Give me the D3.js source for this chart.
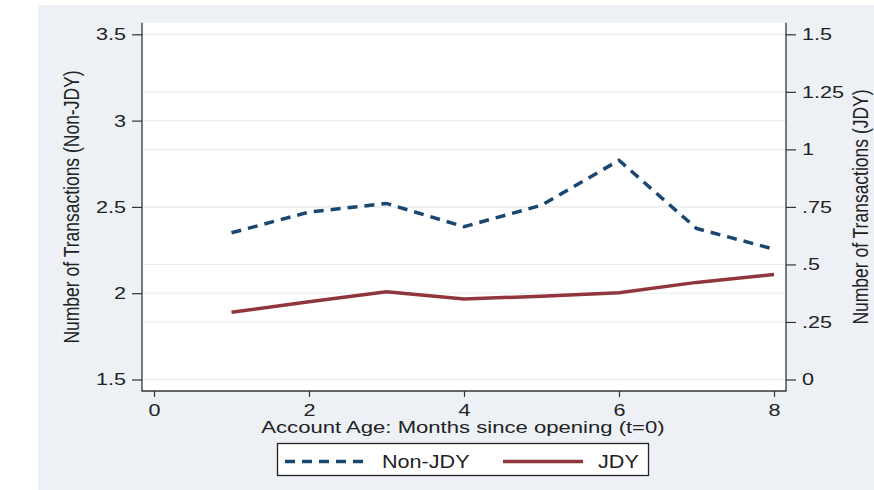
<!DOCTYPE html>
<html>
<head>
<meta charset="utf-8">
<script src="https://cdn.jsdelivr.net/npm/d3@7"></script>
<style>
  html, body { margin: 0; padding: 0; background: #ffffff; }
  svg { display: block; font-family: "Liberation Sans", Arial, sans-serif; }
</style>
</head>
<body>
<svg id="chart" width="874" height="490"></svg>
<script>
const months = [1, 2, 3, 4, 5, 6, 7, 8];
const nonJDY = [2.35, 2.47, 2.52, 2.385, 2.51, 2.77, 2.375, 2.255];
const jdy = [0.292, 0.338, 0.381, 0.35, 0.362, 0.377, 0.422, 0.456];
const xTicks = [0, 2, 4, 6, 8];
const leftTicks = [1.5, 2, 2.5, 3, 3.5];
const rightTicks = [0, 0.25, 0.5, 0.75, 1, 1.25, 1.5];
const xTitle = "Account Age: Months since opening (t=0)";
const leftTitle = "Number of Transactions (Non-JDY)";
const rightTitle = "Number of Transactions (JDY)";
const seriesNames = ["Non-JDY", "JDY"];
const colors = ["#1a476f", "#90353b"];

const svg = d3.select("#chart");
const SX = 1.27; // horizontal stretch of the original image

// outer panel
svg.append("rect").attr("x", 38).attr("y", 5).attr("width", 836).attr("height", 485)
  .attr("fill", "#edf1f6");

const plot = { left: 142, right: 786, top: 22.7, bottom: 391 };
svg.append("rect").attr("x", plot.left).attr("y", plot.top)
  .attr("width", plot.right - plot.left).attr("height", plot.bottom - plot.top)
  .attr("fill", "#ffffff");

const x = d3.scaleLinear().domain([0, 8]).range([154, 774]);
const yL = d3.scaleLinear().domain([1.5, 3.5]).range([379.5, 34.3]);
const yR = d3.scaleLinear().domain([0, 1.5]).range([379.5, 34.3]);

// gridlines
const grid = svg.append("g");
grid.selectAll("line.gl").data(leftTicks).join("line")
  .attr("x1", plot.left).attr("x2", plot.right)
  .attr("y1", d => yL(d)).attr("y2", d => yL(d))
  .attr("stroke", "#e8ebee").attr("stroke-width", 1);
grid.selectAll("line.gr").data(rightTicks).join("line")
  .attr("class", "gr")
  .attr("x1", plot.left).attr("x2", plot.right)
  .attr("y1", d => yR(d)).attr("y2", d => yR(d))
  .attr("stroke", "#e8ebee").attr("stroke-width", 1);

// lines
const lineL = d3.line().x((d, i) => x(months[i])).y(d => yL(d));
const lineR = d3.line().x((d, i) => x(months[i])).y(d => yR(d));
svg.append("path").datum(jdy).attr("d", lineR)
  .attr("fill", "none").attr("stroke", colors[1]).attr("stroke-width", 3.5);
svg.append("path").datum(nonJDY).attr("d", lineL)
  .attr("fill", "none").attr("stroke", colors[0]).attr("stroke-width", 3.5)
  .attr("stroke-dasharray", "10,7");

function styleAxis(g, fontSize) {
  g.select(".domain").remove();
  g.selectAll(".tick line").attr("stroke", "#333").attr("stroke-width", 1.2);
  g.selectAll(".tick text").attr("font-size", fontSize).attr("fill", "#222")
    .attr("font-family", "Liberation Sans, Arial, sans-serif");
}

// left axis
const gL = svg.append("g").attr("transform", `translate(${plot.left},0)`)
  .call(d3.axisLeft(yL).tickValues(leftTicks).tickSize(10).tickPadding(6).tickFormat(d3.format("")));
styleAxis(gL, 17);
gL.selectAll(".tick text").each(function() {
  const t = d3.select(this);
  t.attr("x", -16 / SX).attr("transform", `scale(${SX},1)`);
});

// right axis
const fmtR = d => d === 0 ? "0" : String(d).replace(/^0\./, ".");
const gR = svg.append("g").attr("transform", `translate(${plot.right},0)`)
  .call(d3.axisRight(yR).tickValues(rightTicks).tickSize(10).tickPadding(6).tickFormat(fmtR));
styleAxis(gR, 17);
gR.selectAll(".tick text").each(function() {
  d3.select(this).attr("x", 16 / SX).attr("transform", `scale(${SX},1)`);
});

// bottom axis
const gB = svg.append("g").attr("transform", `translate(0,${plot.bottom})`)
  .call(d3.axisBottom(x).tickValues(xTicks).tickSize(6).tickPadding(6).tickFormat(d3.format("d")));
styleAxis(gB, 17);
gB.selectAll(".tick text").attr("transform", `scale(${SX},1)`).attr("y", 13).attr("dy", "0.71em");

// axis lines
svg.append("line").attr("x1", plot.left).attr("x2", plot.left).attr("y1", plot.top).attr("y2", plot.bottom)
  .attr("stroke", "#333").attr("stroke-width", 1.3);
svg.append("line").attr("x1", plot.right).attr("x2", plot.right).attr("y1", plot.top).attr("y2", plot.bottom)
  .attr("stroke", "#333").attr("stroke-width", 1.3);
svg.append("line").attr("x1", plot.left - 0.6).attr("x2", plot.right + 0.6).attr("y1", plot.bottom).attr("y2", plot.bottom)
  .attr("stroke", "#333").attr("stroke-width", 1.3);

// titles
function stretchedText(xPos, yPos, txt, size, sx, anchor, rot) {
  const g = svg.append("g").attr("transform", `translate(${xPos},${yPos}) scale(${sx},1)` + (rot ? ` rotate(${rot})` : ""));
  return g.append("text").attr("x", 0).attr("y", 0).attr("text-anchor", anchor)
    .attr("font-size", size).attr("fill", "#222").text(txt);
}
stretchedText(463, 432.5, xTitle, 17, 1.3, "middle");
stretchedText(79, 207, leftTitle, 17.5, 1.25, "middle", -90);
stretchedText(868, 207, rightTitle, 17.5, 1.25, "middle", -90);

// legend
const leg = svg.append("g");
leg.append("rect").attr("x", 277.5).attr("y", 443.5).attr("width", 371).attr("height", 32)
  .attr("fill", "#ffffff").attr("stroke", "#222").attr("stroke-width", 1.3);
const legItems = [
  { x1: 285, x2: 368, tx: 382, dash: "10,7" },
  { x1: 503, x2: 583, tx: 598, dash: null }
];
legItems.forEach((it, i) => {
  const l = leg.append("line").attr("x1", it.x1).attr("x2", it.x2).attr("y1", 461.5).attr("y2", 461.5)
    .attr("stroke", colors[i]).attr("stroke-width", 3.5);
  if (it.dash) l.attr("stroke-dasharray", it.dash);
  stretchedText(it.tx, 467.7, seriesNames[i], 18, 1.2, "start");
});
</script>
</body>
</html>
